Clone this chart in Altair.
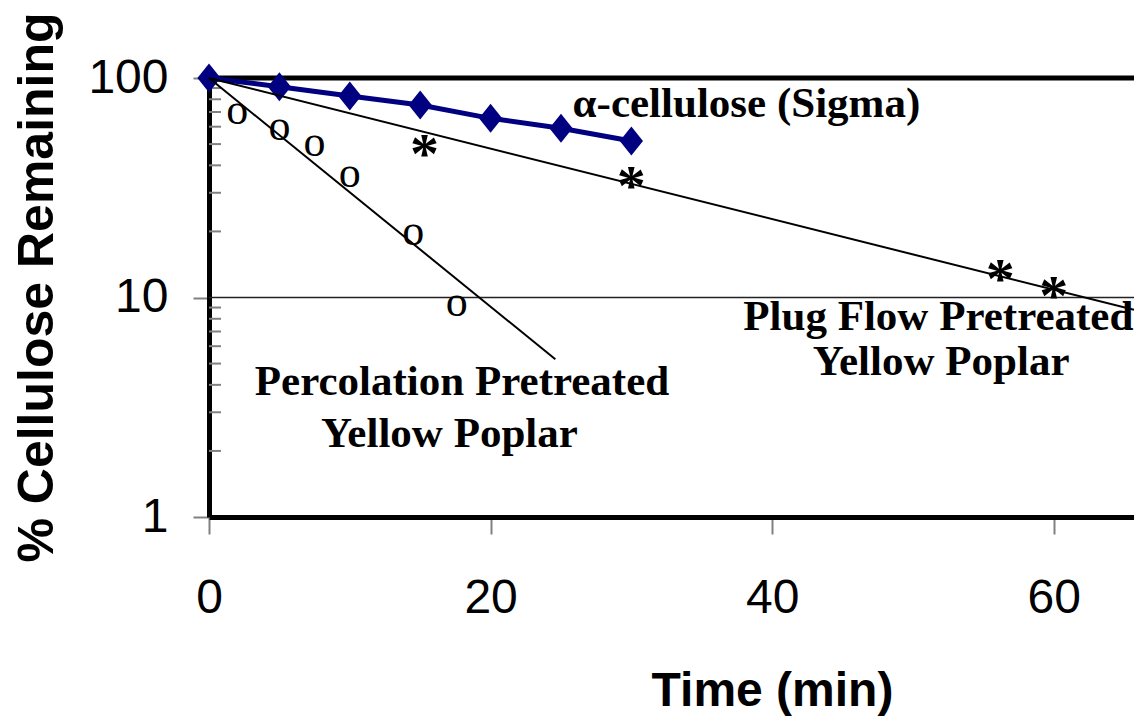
import altair as alt
import pandas as pd

# ---- data ----
time_alpha = [0, 5, 10, 15, 20, 25, 30]
pct_alpha = [100, 91.3, 82.8, 75.3, 65.5, 59.0, 51.6]

time_perc = [2, 5, 7.5, 10, 14.5, 17.6]
pct_perc = [68.6, 58.0, 49.0, 35.3, 19.3, 9.15]

time_plug = [15.3, 30, 56.2, 60]
pct_plug = [49.5, 35.5, 13.3, 11.2]

perc_fit_time = [0, 24.6]
perc_fit_pct = [100, 5.23]
plug_fit_time = [0, 65.7]
plug_fit_pct = [100, 8.79]

x_ticks = [0, 20, 40, 60]
y_ticks = [1, 10, 100]
y_minor = [2, 3, 4, 5, 6, 7, 8, 9, 20, 30, 40, 50, 60, 70, 80, 90]

label_text = ["α-cellulose (Sigma)", "Percolation Pretreated", "Yellow Poplar",
              "Plug Flow Pretreated", "Yellow Poplar"]
label_time = [38.17, 17.97, 17.08, 51.8, 52.0]
label_pct = [66.6, 3.60, 2.09, 7.11, 4.43]

# ---- tables ----
df_alpha = pd.DataFrame({"t": time_alpha, "p": pct_alpha})
df_perc = pd.DataFrame({"t": time_perc, "p": pct_perc})
df_plug = pd.DataFrame({"t": time_plug, "p": pct_plug})
df_perc_fit = pd.DataFrame({"t": perc_fit_time, "p": perc_fit_pct})
df_plug_fit = pd.DataFrame({"t": plug_fit_time, "p": plug_fit_pct})
df_minor = pd.DataFrame({"p": y_minor})
df_top = pd.DataFrame({"p": [100]})
df_grid = pd.DataFrame({"p": [10]})
df_labels = pd.DataFrame({"label": label_text, "t": label_time, "p": label_pct})

SANS = "Liberation Sans"
SERIF = "Liberation Serif"

x_scale = alt.Scale(domain=[0, 65.7], nice=False, zero=False)
y_scale = alt.Scale(type="log", domain=[1, 100], nice=False)

x_axis = alt.Axis(
    values=x_ticks, title="Time (min)", grid=False,
    labelFont=SANS, labelFontSize=48, labelColor="black", labelPadding=40,
    labelFlush=False,
    tickSize=17, tickColor="#808080", tickWidth=2,
    domainColor="black", domainWidth=5,
    titleFont=SANS, titleFontSize=48, titleFontWeight="bold", titleColor="black",
    titleX=563, titleY=188, titleAlign="center", titleBaseline="alphabetic",
)
y_axis = alt.Axis(
    values=y_ticks, format="d", title="% Cellulose Remaining", grid=False,
    labelFont=SANS, labelFontSize=48, labelColor="black", labelPadding=25,
    labelFlush=False,
    tickSize=16, tickColor="#808080", tickWidth=2,
    domainColor="black", domainWidth=5,
    titleFont=SANS, titleFontSize=50, titleFontWeight="bold", titleColor="black",
    titleX=-157, titleY=209, titleAngle=270, titleAlign="center",
    titleBaseline="alphabetic",
)

X = alt.X("t:Q", scale=x_scale, axis=x_axis)
Y = alt.Y("p:Q", scale=y_scale, axis=y_axis)

top_line = alt.Chart(df_top).mark_rule(color="black", strokeWidth=5).encode(y=Y)
grid10 = alt.Chart(df_grid).mark_rule(color="#222222", strokeWidth=1.5).encode(y=Y)
minor = alt.Chart(df_minor).mark_rule(color="#808080", strokeWidth=2).encode(
    y=Y, x=alt.value(0), x2=alt.value(12)
)

alpha_line = alt.Chart(df_alpha).mark_line(color="#000080", strokeWidth=5).encode(x=X, y=Y)
alpha_pts = alt.Chart(df_alpha).mark_point(
    shape="M-0.8,0L0,-1L0.8,0L0,1Z", size=841, filled=True, color="#000080", opacity=1
).encode(x=X, y=Y)

perc_fit = alt.Chart(df_perc_fit).mark_line(color="black", strokeWidth=2).encode(x=X, y=Y)
plug_fit = alt.Chart(df_plug_fit).mark_line(color="black", strokeWidth=2).encode(x=X, y=Y)

perc_pts = alt.Chart(df_perc).mark_text(
    text="o", font=SERIF, fontSize=44, color="black", baseline="alphabetic", dy=10
).encode(x=X, y=Y)
plug_pts = alt.Chart(df_plug).mark_text(
    text="*", font=SERIF, fontSize=58, fontWeight="bold", color="black",
    baseline="alphabetic", dy=28
).encode(x=X, y=Y)

labels = alt.Chart(df_labels).mark_text(
    font=SERIF, fontSize=43, fontWeight="bold", color="black",
    baseline="alphabetic", align="center"
).encode(x=X, y=Y, text="label:N")

chart = alt.layer(
    grid10, top_line, minor, alpha_line, alpha_pts, perc_fit, plug_fit,
    perc_pts, plug_pts, labels
).properties(
    width=925, height=439,
    autosize=alt.AutoSizeParams(type="none"),
    padding={"left": 201, "top": 70, "right": 0, "bottom": 199},
    background="white",
).configure_view(strokeWidth=0)

chart.save("out.html", embed_options={"renderer": "svg", "actions": False})
